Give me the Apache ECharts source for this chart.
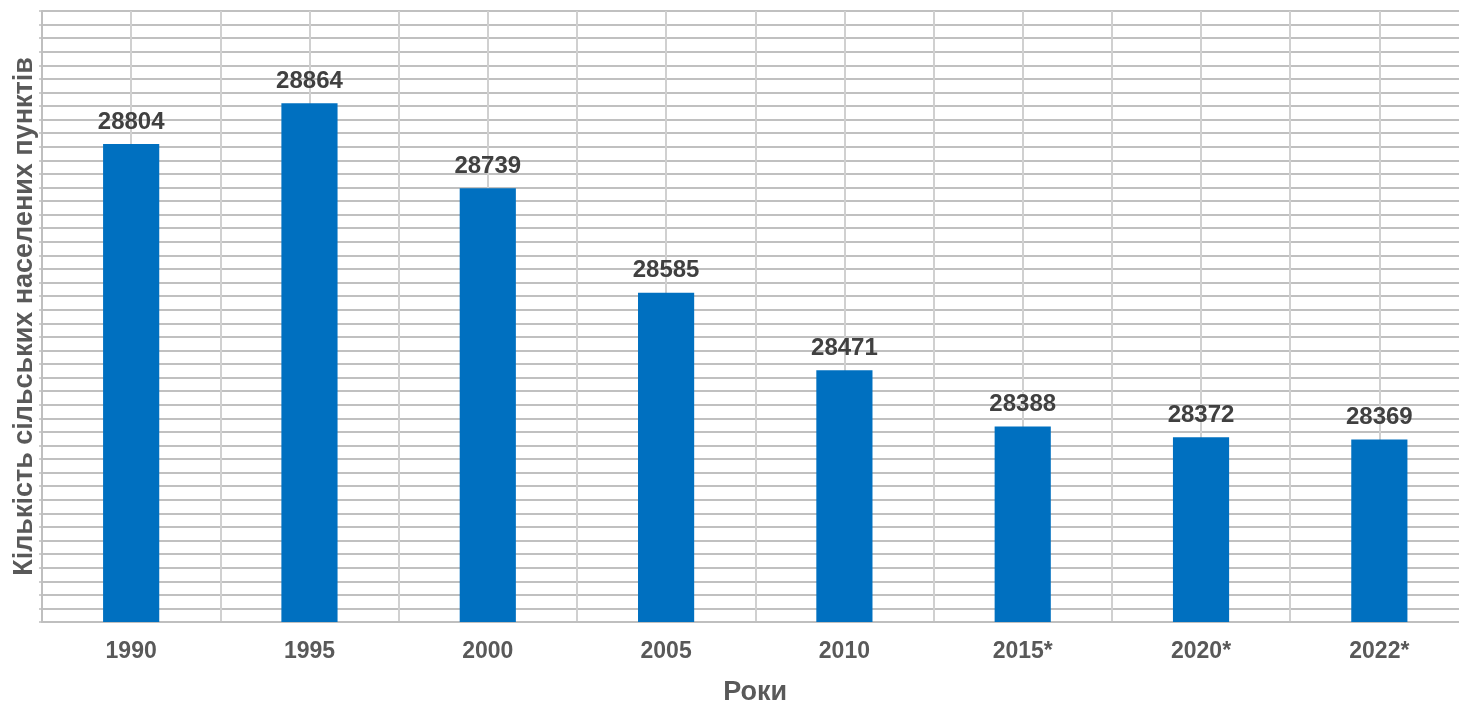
<!DOCTYPE html>
<html>
<head>
<meta charset="utf-8">
<script src="https://cdn.jsdelivr.net/npm/echarts@6/dist/echarts.min.js"></script>
<style>
html,body{margin:0;padding:0;background:#fff;}
#chart{width:1459px;height:701px;}
</style>
</head>
<body>
<div id="chart"></div>
<script>
const categories = ['1990','1995','2000','2005','2010','2015*','2020*','2022*'];
const values = [28804, 28864, 28739, 28585, 28471, 28388, 28372, 28369];
const yMin = 28100, yMax = 29000, yStep = 20;
const xName = 'Роки';
const yName = 'Кількість сільських населених пунктів';

const chart = echarts.init(document.getElementById('chart'));
const font = 'Liberation Sans, Arial, sans-serif';
chart.setOption({
  animation: false,
  backgroundColor: '#fff',
  grid: { left: 42, right: -9.5, top: 11, bottom: 79, containLabel: false, outerBoundsMode: 'none' },
  xAxis: [{
    type: 'category',
    data: categories,
    axisLine: { show: true, lineStyle: { color: '#bfbfbf', width: 2 } },
    axisTick: { show: false },
    splitLine: { show: false },
    axisLabel: { color: '#595959', fontFamily: font, fontWeight: 'bold', fontSize: 23, margin: 18 },
    name: xName,
    nameLocation: 'middle',
    nameGap: 57,
    nameTextStyle: { color: '#595959', fontFamily: font, fontWeight: 'bold', fontSize: 27 }
  }, {
    type: 'value',
    position: 'top',
    min: 0, max: 16, interval: 1,
    axisLine: { show: false }, axisTick: { show: false }, axisLabel: { show: false },
    splitLine: { show: true, lineStyle: { color: '#d0d0d0', width: 2 } }
  }],
  yAxis: {
    type: 'value',
    min: yMin, max: yMax, interval: yStep,
    axisLabel: { show: false },
    axisTick: { show: true, length: 3, lineStyle: { color: '#bfbfbf', width: 1.5 } },
    axisLine: { show: true, lineStyle: { color: '#bfbfbf', width: 2 } },
    splitLine: { show: true, lineStyle: { color: '#c0c0c0', width: 2 } },
    name: yName,
    nameLocation: 'middle',
    nameGap: 4,
    nameTextStyle: { color: '#595959', fontFamily: font, fontWeight: 'bold', fontSize: 27 }
  },
  series: [{
    type: 'bar',
    xAxisIndex: 0,
    data: values,
    barWidth: '31.5%',
    itemStyle: { color: '#0070C0' },
    label: { show: true, position: 'top', distance: 10, color: '#404040', fontFamily: font, fontWeight: 'bold', fontSize: 24 },
    z: 3
  }]
});
</script>
</body>
</html>
